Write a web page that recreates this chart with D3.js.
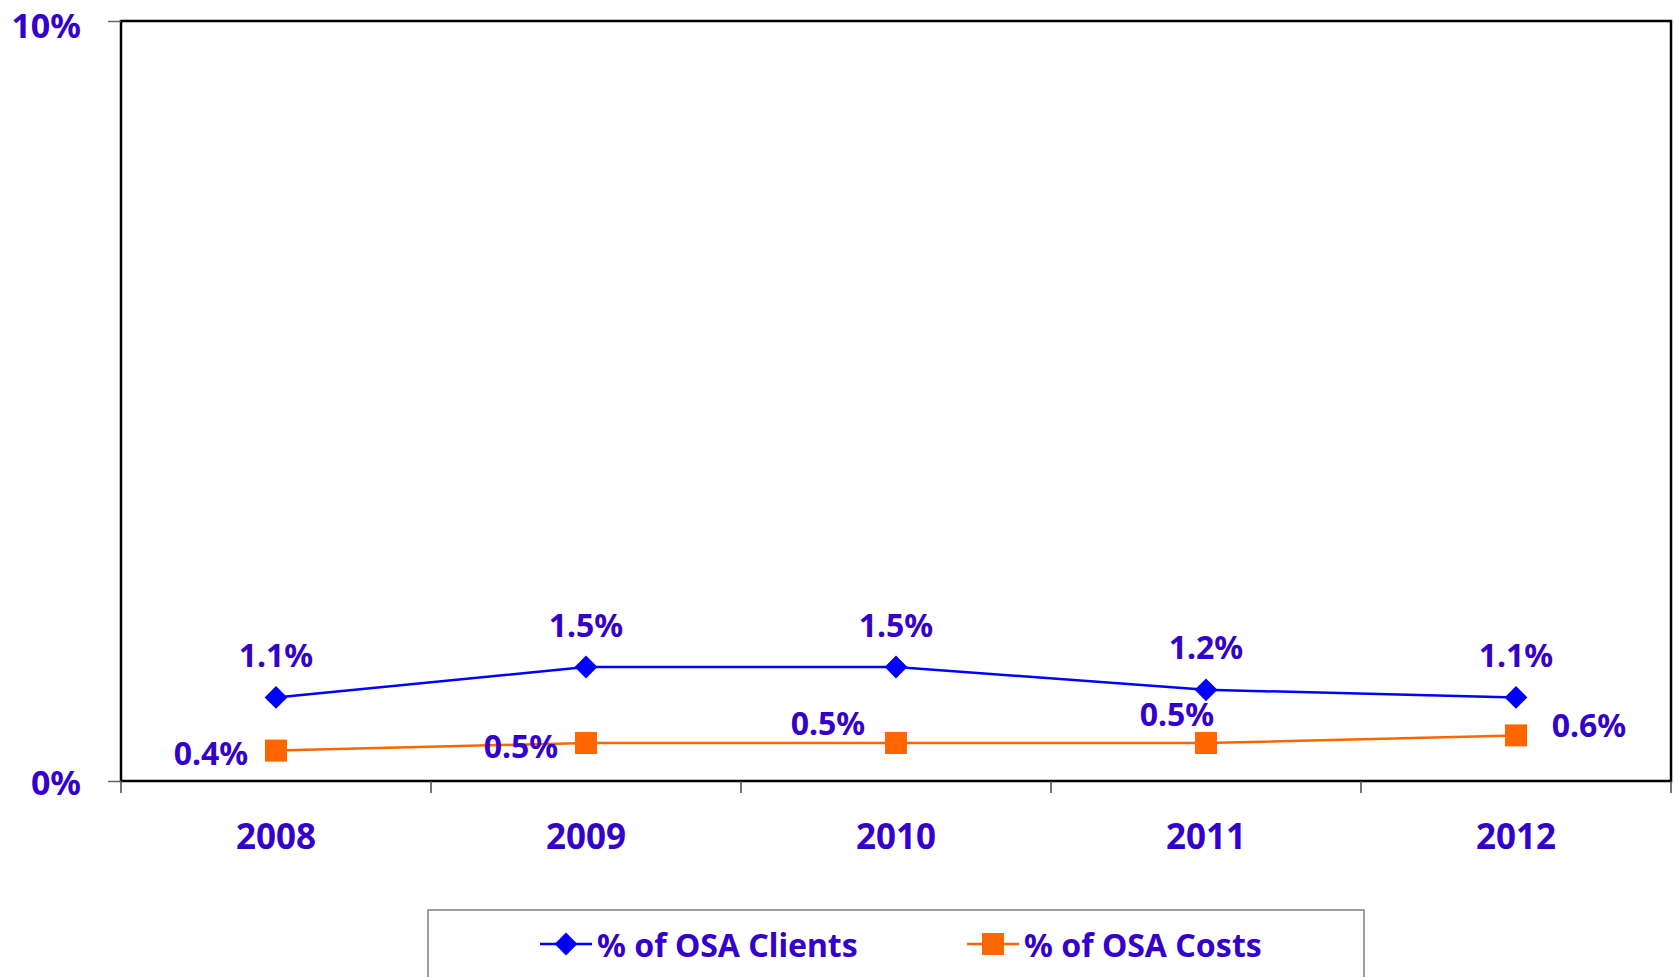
<!DOCTYPE html>
<meta charset="utf-8">
<title>OSA Clients and Costs</title>
<script src="https://cdn.jsdelivr.net/npm/d3@7"></script>
<style>
    body { margin: 0; background: #fff; }
    text { font-family: "Noto Sans", sans-serif; font-weight: bold; fill: #3300cc; }
</style>
<svg width="1674" height="977"></svg>

<script>
    // data
    const years = ['2008', '2009', '2010', '2011', '2012'];
    const clients = [1.1, 1.5, 1.5, 1.2, 1.1];
    const costs = [0.4, 0.5, 0.5, 0.5, 0.6];
    const yTicks = [0, 10];
    const seriesNames = ['% of OSA Clients', '% of OSA Costs'];

    // hand placed data labels for the costs series (dx, dy from the marker)
    const costLabelOffset = [[-65, 2], [-65, 2], [-68, -21], [-29, -30], [73, -11]];

    const svg = d3.select("svg");
    const plotLeft = 121, plotRight = 1671, plotTop = 21, plotBottom = 781;

    const x = d3.scaleBand().domain(years).range([plotLeft, plotRight]).padding(0);
    const y = d3.scaleLinear().domain([0, 10]).range([plotBottom, plotTop]);
    const cx = d => x(d) + x.bandwidth() / 2;

    // plot frame
    svg.append("rect")
        .attr("x", plotLeft).attr("y", plotTop)
        .attr("width", plotRight - plotLeft).attr("height", plotBottom - plotTop)
        .attr("fill", "none").attr("stroke", "#000").attr("stroke-width", 2.5);

    // x axis ticks
    const xa = svg.append("g")
        .attr("transform", `translate(0,${plotBottom})`);
    xa.selectAll(".sep")
        .data(d3.range(years.length + 1))
        .join("line")
        .attr("x1", i => plotLeft + i * x.step()).attr("x2", i => plotLeft + i * x.step())
        .attr("y1", 0).attr("y2", 12)
        .attr("stroke", "#444").attr("stroke-width", 1.5);
    xa.selectAll(".yr")
        .data(years)
        .join("text")
        .attr("x", cx).attr("y", 54)
        .attr("text-anchor", "middle").attr("dominant-baseline", "central")
        .style("font-size", "35px")
        .text(d => d);

    // y axis
    const ya = svg.append("g")
        .attr("transform", `translate(${plotLeft},0)`)
        .call(d3.axisLeft(y).tickValues(yTicks).tickSize(13).tickFormat(d => d + "%"));
    ya.select(".domain").remove();
    ya.selectAll(".tick line").attr("stroke", "#666").attr("stroke-width", 1.5);
    ya.selectAll(".tick text")
        .attr("x", -40)
        .attr("dy", d => d === 10 ? "3px" : null)
        .attr("dominant-baseline", "central")
        .attr("fill", "#3300cc")
        .style("font-family", "'Noto Sans', sans-serif")
        .style("font-weight", "bold")
        .style("font-size", "34px");

    const line = d3.line().x((d, i) => cx(years[i])).y(d => y(d));

    // clients series
    svg.append("path").datum(clients)
        .attr("d", line).attr("fill", "none")
        .attr("stroke", "#0000ff").attr("stroke-width", 2.5);
    svg.selectAll(".dia").data(clients).join("path")
        .attr("d", d3.symbol(d3.symbolSquare, 260))
        .attr("transform", (d, i) => `translate(${cx(years[i])},${y(d)}) rotate(45)`)
        .attr("fill", "#0000ff");
    svg.selectAll(".clab").data(clients).join("text")
        .attr("x", (d, i) => cx(years[i])).attr("y", d => y(d) - 43)
        .attr("text-anchor", "middle").attr("dominant-baseline", "central")
        .style("font-size", "32px")
        .text(d => d.toFixed(1) + "%");

    // costs series
    svg.append("path").datum(costs)
        .attr("d", line).attr("fill", "none")
        .attr("stroke", "#ff6600").attr("stroke-width", 2.5);
    svg.selectAll(".sq").data(costs).join("rect")
        .attr("x", (d, i) => cx(years[i]) - 11).attr("y", d => y(d) - 11)
        .attr("width", 22).attr("height", 22)
        .attr("fill", "#ff6600");
    svg.selectAll(".klab").data(costs).join("text")
        .attr("x", (d, i) => cx(years[i]) + costLabelOffset[i][0])
        .attr("y", (d, i) => y(d) + costLabelOffset[i][1])
        .attr("text-anchor", "middle").attr("dominant-baseline", "central")
        .style("font-size", "32px")
        .text(d => d.toFixed(1) + "%");

    // legend
    const lg = svg.append("g");
    lg.append("rect")
        .attr("x", 428).attr("y", 910).attr("width", 936).attr("height", 80)
        .attr("fill", "#fff").attr("stroke", "#808080").attr("stroke-width", 1.5);
    const items = [
        { name: seriesNames[0], color: "#0000ff", x0: 540, shape: "diamond" },
        { name: seriesNames[1], color: "#ff6600", x0: 967, shape: "square" }
    ];
    items.forEach(it => {
        const ly = 944;
        lg.append("line")
            .attr("x1", it.x0).attr("x2", it.x0 + 52).attr("y1", ly).attr("y2", ly)
            .attr("stroke", it.color).attr("stroke-width", 2.5);
        if (it.shape === "diamond") {
            lg.append("path")
                .attr("d", d3.symbol(d3.symbolSquare, 260))
                .attr("transform", `translate(${it.x0 + 26},${ly}) rotate(45)`)
                .attr("fill", it.color);
        } else {
            lg.append("rect")
                .attr("x", it.x0 + 15).attr("y", ly - 11).attr("width", 22).attr("height", 22)
                .attr("fill", it.color);
        }
        lg.append("text")
            .attr("x", it.x0 + 57).attr("y", ly)
            .attr("dominant-baseline", "central")
            .style("font-size", "32px")
            .text(it.name);
    });
</script>
